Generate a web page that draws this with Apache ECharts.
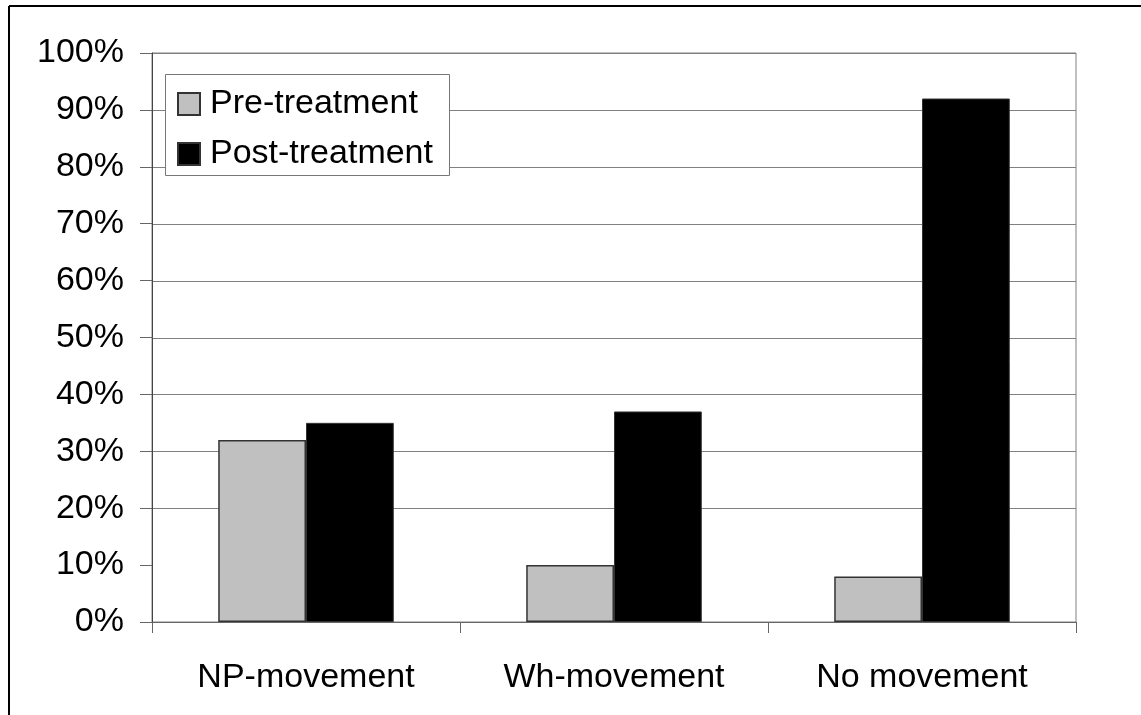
<!DOCTYPE html>
<html>
<head>
<meta charset="utf-8">
<style>
  html, body { margin: 0; padding: 0; background: #fff; }
  #chart { width: 1141px; height: 715px; }
</style>
<script src="https://cdn.jsdelivr.net/npm/echarts@6/dist/echarts.min.js"></script>
</head>
<body>
<div id="chart"></div>
<script>
// Share of responses by movement type, before and after treatment (%)
const categories = ['NP-movement', 'Wh-movement', 'No movement'];
const preTreatment = [32, 10, 8];
const postTreatment = [35, 37, 92];
const seriesNames = ['Pre-treatment', 'Post-treatment'];
// horizontal gridlines drawn across the plot (the 10% line is left out)
const gridValues = [20, 30, 40, 50, 60, 70, 80, 90, 100];

const FONT = '"Liberation Sans", Arial, sans-serif';
const GRID_GRAY = '#808080';

const chart = echarts.init(document.getElementById('chart'), null, { renderer: 'canvas' });

chart.setOption({
  backgroundColor: '#ffffff',
  animation: false,
  textStyle: { fontFamily: FONT },
  graphic: [
    // frame: top and left edges
    { type: 'line', shape: { x1: 9, y1: 6, x2: 1141, y2: 6 }, style: { stroke: '#000', lineWidth: 2 }, z: 10 },
    { type: 'line', shape: { x1: 9, y1: 6, x2: 9, y2: 715 }, style: { stroke: '#000', lineWidth: 2 }, z: 10 },
    // legend box
    { type: 'rect', shape: { x: 165.5, y: 74.5, width: 284, height: 101 },
      style: { fill: '#ffffff', stroke: '#777', lineWidth: 1 }, z: 5 }
  ],
  grid: {
    left: 152, right: 65, top: 53, bottom: 93,
    show: true, borderColor: GRID_GRAY, borderWidth: 1, backgroundColor: '#fff'
  },
  legend: {
    orient: 'vertical',
    left: 165, top: 74,
    padding: [13, 12, 12, 12],
    itemWidth: 22, itemHeight: 22, itemGap: 16,
    z: 6,
    icon: 'rect',
    textStyle: { fontFamily: FONT, fontSize: 34, color: '#000', padding: [0, 0, 0, 5] },
    data: seriesNames
  },
  xAxis: {
    type: 'category',
    data: categories,
    z: 3,
    axisLine: { show: true, lineStyle: { color: '#666', width: 1 } },
    axisTick: { show: true, length: 11, alignWithLabel: false, lineStyle: { color: '#666' } },
    axisLabel: { fontFamily: FONT, fontSize: 34, color: '#000', margin: 39 },
    splitLine: { show: false }
  },
  yAxis: {
    type: 'value',
    min: 0, max: 100, interval: 10,
    z: 3,
    axisLine: { show: true, lineStyle: { color: '#444', width: 1 } },
    axisTick: { show: true, length: 12, lineStyle: { color: '#666' } },
    axisLabel: {
      fontFamily: FONT, fontSize: 34, color: '#000', margin: 28,
      padding: [6, 0, 0, 0],
      formatter: '{value}%'
    },
    splitLine: { show: false }
  },
  series: [
    {
      // horizontal gridlines, placed through the value axis, beneath the bars
      name: 'gridlines',
      type: 'custom',
      z: 1,
      silent: true,
      data: gridValues.map(v => [0, v]),
      encode: { x: 0, y: 1 },
      renderItem: function (params, api) {
        const cs = params.coordSys;
        const y = Math.round(api.coord([0, api.value(1)])[1]) + 0.5;
        return {
          type: 'line',
          shape: { x1: cs.x, y1: y, x2: cs.x + cs.width, y2: y },
          style: { stroke: GRID_GRAY, lineWidth: 1 }
        };
      }
    },
    {
      name: seriesNames[0],
      type: 'bar',
      data: preTreatment,
      z: 2,
      barGap: '0%',
      barCategoryGap: '43%',
      itemStyle: { color: '#c0c0c0', borderColor: '#333', borderWidth: 1.5 }
    },
    {
      name: seriesNames[1],
      type: 'bar',
      data: postTreatment,
      z: 2,
      barGap: '0%',
      barCategoryGap: '43%',
      itemStyle: { color: '#000000', borderColor: '#333', borderWidth: 1 }
    }
  ]
});
</script>
</body>
</html>
